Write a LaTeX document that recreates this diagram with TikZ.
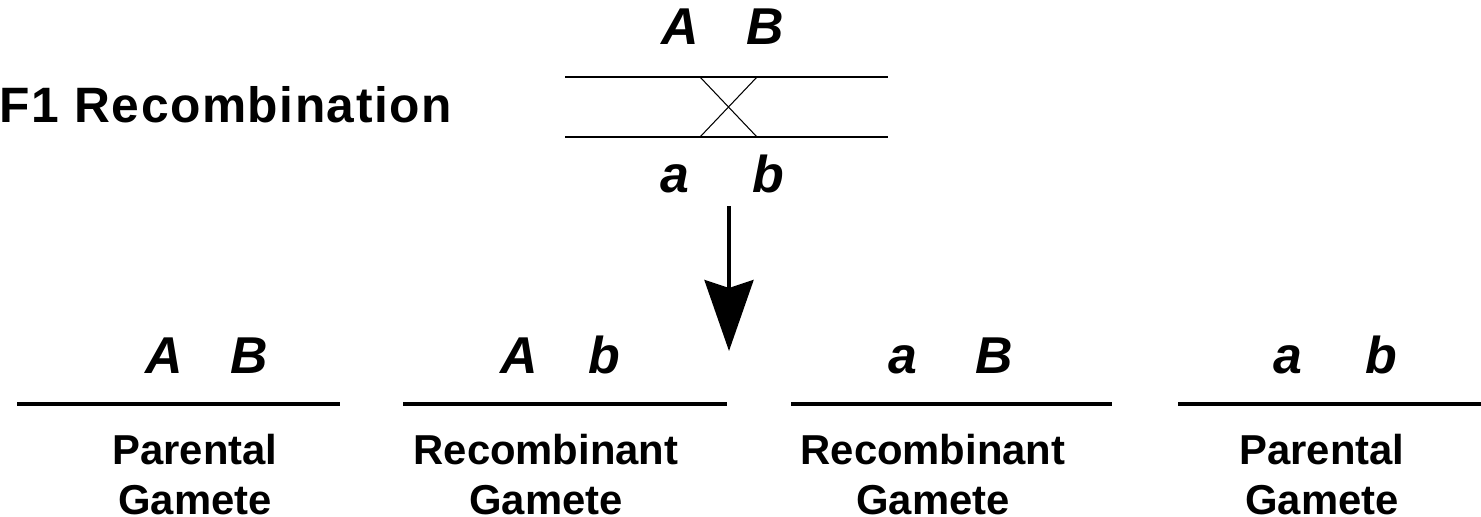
\documentclass[tikz,border=0pt]{standalone}
\usepackage{fontspec}
\setmainfont{Liberation Sans}
\newfontfamily\spacedfont[LetterSpace=3.0]{Liberation Sans}
\usetikzlibrary{arrows.meta}

\begin{document}
\begin{tikzpicture}[
    x=0.02cm, y=-0.02cm,
    headline/.style={inner sep=0pt, anchor=base east, font=\spacedfont\fontsize{28.3}{30}\selectfont\bfseries},
    allele/.style={inner sep=0pt, anchor=base, font=\fontsize{29.5}{30}\selectfont\bfseries\itshape},
    gametelabel/.style={inner sep=0pt, anchor=north, align=center, font=\fontsize{23.8}{28.5}\selectfont\bfseries},
    chromline/.style={draw=black, line width=1.7pt},
    gameteline/.style={draw=black, line width=2.2pt},
    crossline/.style={draw=black, line width=0.6pt},
    meiosis/.style={draw=black, line width=2.2pt, -{Stealth[width=0.98cm, length=1.42cm, inset=0.16cm]}}
]
    \useasboundingbox (0, 0) rectangle (1481, 517);

    % Title
    \node[headline] (TITLE) at (452, 123) {F1 Recombination};

    % F1 chromosome pair with crossover
    \node[allele] (TA) at (680, 45) {A};
    \node[allele] (TB) at (765, 45) {B};
    \node[allele] (Ta) at (675, 193) {a};
    \node[allele] (Tb) at (768, 193) {b};
    \draw[chromline] (565, 77) -- (888, 77);
    \draw[chromline] (565, 137) -- (888, 137);
    \draw[crossline] (700, 77) -- (757, 137);
    \draw[crossline] (757, 77) -- (700, 137);

    % Arrow down to the gametes
    \coordinate (ARROWTOP) at (729, 206);
    \coordinate (ARROWTIP) at (729, 351);
    \draw[meiosis] (ARROWTOP) -- (ARROWTIP);

    % Gamete 1
    \node[allele] (G1A) at (164, 373) {A};
    \node[allele] (G1B) at (249, 373) {B};
    \draw[gameteline] (17, 404) -- (340, 404);
    \node[gametelabel] (G1LBL) at (195, 434) {Parental\\Gamete};

    % Gamete 2
    \node[allele] (G2A) at (519, 373) {A};
    \node[allele] (G2b) at (604, 373) {b};
    \draw[gameteline] (403, 404) -- (727, 404);
    \node[gametelabel] (G2LBL) at (546, 434) {Recombinant\\Gamete};

    % Gamete 3
    \node[allele] (G3a) at (903, 373) {a};
    \node[allele] (G3B) at (994, 373) {B};
    \draw[gameteline] (791, 404) -- (1112, 404);
    \node[gametelabel] (G3LBL) at (933, 434) {Recombinant\\Gamete};

    % Gamete 4
    \node[allele] (G4a) at (1288, 373) {a};
    \node[allele] (G4b) at (1381, 373) {b};
    \draw[gameteline] (1178, 404) -- (1481, 404);
    \node[gametelabel] (G4LBL) at (1322, 434) {Parental\\Gamete};
\end{tikzpicture}
\end{document}
